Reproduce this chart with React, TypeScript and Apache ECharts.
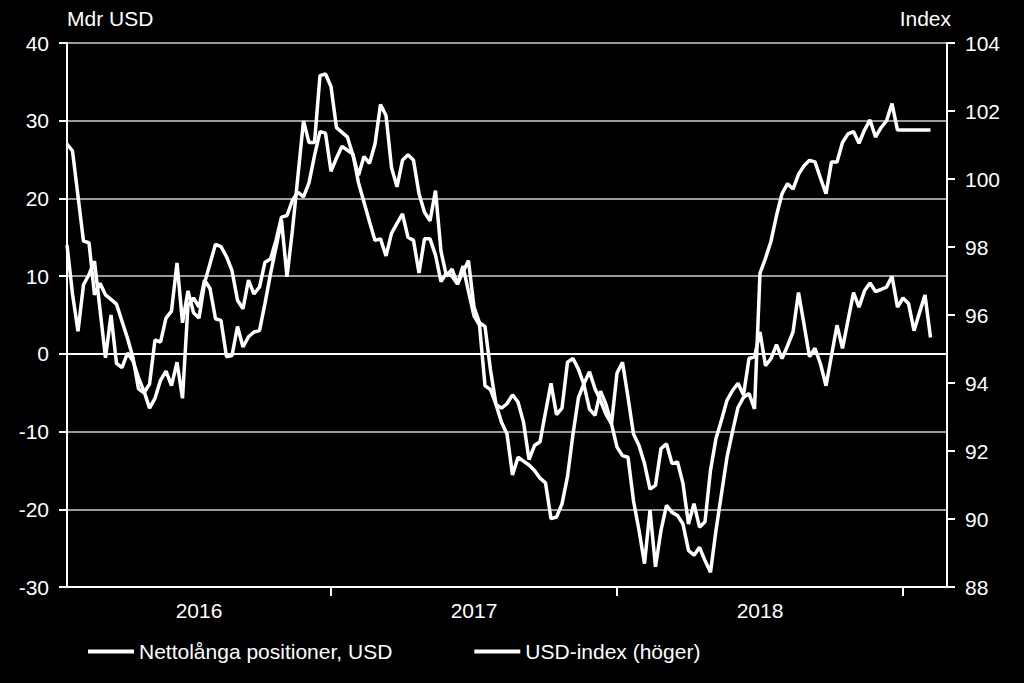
import React, { useEffect, useRef } from "react";
import * as echarts from "echarts";

// ---- data ----
const START_DATE = "2016-01-26"; // first weekly observation
const CATEGORY_COUNT = 161; // weekly slots on the axis (data + empty tail)
const YEAR_TICK_INDEX = [48, 100, 152]; // year boundaries
const YEAR_LABEL_INDEX = [24, 74, 126]; // where the year labels sit

const LEFT_AXIS = { min: -30, max: 40, interval: 10, name: "Mdr USD" };
const RIGHT_AXIS = { min: 88, max: 104, interval: 2, name: "Index" };

const SERIES_NAMES = ["Nettolånga positioner, USD", "USD-index (höger)"];

// Net long USD positions, bn USD (left axis)
const netLong = [
  27.0, 26.1, 20.3, 14.5, 14.3, 7.6, 9.1, 7.6, 7.0, 6.4,
  4.2, 2.0, -0.5, -4.5, -5.0, -3.9, 1.8, 1.5, 4.6, 5.5,
  11.7, 4.0, 8.1, 5.3, 4.6, 9.1, 11.6, 14.1, 13.8, 12.5,
  10.7, 6.9, 5.8, 9.5, 7.7, 8.6, 11.8, 12.2, 14.6, 17.6,
  17.8, 19.8, 20.8, 20.2, 22.0, 25.5, 28.6, 28.4, 23.5, 25.2,
  26.7, 26.2, 25.7, 22.0, 19.5, 17.0, 14.6, 14.8, 12.6, 15.5,
  16.8, 18.0, 15.0, 14.6, 10.4, 14.8, 14.8, 12.7, 9.3, 10.4,
  10.0, 9.0, 11.3, 8.0, 4.9, 3.7, -4.1, -4.6, -6.5, -8.8,
  -10.3, -15.6, -13.3, -13.8, -14.3, -15.0, -16.0, -16.6, -21.2, -21.0,
  -19.3, -15.8, -10.3, -5.6, -3.8, -2.3, -4.5, -6.0, -7.8, -9.0,
  -12.0, -13.1, -13.3, -18.9, -22.7, -27.0, -20.1, -27.4, -22.7, -19.5,
  -20.4, -20.8, -21.9, -25.3, -25.9, -24.9, -26.6, -28.1, -22.7, -18.0,
  -13.3, -10.0, -6.9, -5.6, -5.1, -7.1, 10.4, 12.3, 14.5, 17.8,
  20.6, 21.9, 21.2, 23.1, 24.2, 24.9, 24.7, 22.6, 20.6, 24.7,
  24.7, 27.2, 28.3, 28.6, 27.1, 28.8, 30.1, 27.9, 29.1, 30.0,
  32.2, 28.8, 28.8, 28.8, 28.8, 28.8, 28.8, 28.8,
];

// USD index (right axis)
const usdIndex = [
  98.06, 96.62, 95.52, 96.89, 97.19, 97.58, 96.16, 94.74, 96.0, 94.58,
  94.45, 94.88, 94.65, 94.15, 93.76, 93.26, 93.55, 94.08, 94.35, 93.92,
  94.61, 93.55, 96.3, 96.5, 96.23, 97.03, 96.78, 95.89, 95.84, 94.77,
  94.81, 95.66, 95.06, 95.36, 95.5, 95.54, 96.34, 97.21, 97.99, 98.79,
  97.12, 98.51, 100.11, 101.71, 101.07, 101.07, 103.04, 103.09, 102.72, 101.51,
  101.37, 101.23, 100.69, 100.11, 100.66, 100.46, 101.03, 102.19, 101.87, 100.34,
  99.77, 100.55, 100.71, 100.55, 99.57, 99.02, 98.77, 99.66, 97.87, 97.14,
  97.35, 96.91, 97.26, 97.6, 96.23, 95.77, 95.66, 94.38, 93.37, 93.26,
  93.39, 93.65, 93.44, 92.85, 91.75, 92.16, 92.27, 93.14, 93.99, 93.07,
  93.26, 94.61, 94.72, 94.4, 93.94, 93.23, 93.05, 93.76, 93.37, 92.8,
  94.29, 94.61, 93.58, 92.5, 92.16, 91.63, 90.88, 90.99, 92.07, 92.21,
  91.63, 91.68, 91.04, 89.85, 90.45, 89.76, 89.92, 91.43, 92.37, 92.91,
  93.49, 93.78, 93.99, 93.65, 94.72, 94.77, 95.5, 94.51, 94.72, 95.13,
  94.72, 95.09, 95.5, 96.66, 95.73, 94.77, 95.02, 94.56, 93.92, 94.81,
  95.7, 95.02, 95.84, 96.66, 96.23, 96.71, 96.94, 96.69, 96.75, 96.82,
  97.14, 96.23, 96.5, 96.34, 95.54, 96.07, 96.59, 95.34,
];

function buildCategories(): string[] {
  const out: string[] = [];
  const t0 = new Date(START_DATE + "T00:00:00Z").getTime();
  for (let i = 0; i < CATEGORY_COUNT; i++) {
    out.push(new Date(t0 + i * 7 * 86400000).toISOString().slice(0, 10));
  }
  return out;
}

const FONT = "'Liberation Sans', Arial, Helvetica, sans-serif";
const FS = 21;
const WHITE = "#ffffff";
const GRID_GRAY = "#9a9a9a";

export default function App() {
  const ref = useRef<HTMLDivElement>(null);

  useEffect(() => {
    if (!ref.current) return;
    const chart = echarts.init(ref.current, undefined, { renderer: "svg" });
    const categories = buildCategories();

    const lineStyle = { color: WHITE, width: 3.5 };

    chart.setOption({
      animation: false,
      backgroundColor: "#000000",
      textStyle: { fontFamily: FONT, color: WHITE },
      grid: { left: 67, right: 77, top: 43, bottom: 96, containLabel: false },
      legend: {
        left: 83,
        top: 636,
        icon: "rect",
        itemWidth: 46,
        itemHeight: 4,
        itemGap: 82,
        textStyle: { color: WHITE, fontSize: FS, fontFamily: FONT },
        data: SERIES_NAMES,
      },
      graphic: [
        {
          type: "text",
          left: 67,
          top: 8,
          style: { text: LEFT_AXIS.name, fill: WHITE, font: `${FS}px ${FONT}` },
        },
        {
          type: "text",
          right: 73,
          top: 8,
          style: { text: RIGHT_AXIS.name, fill: WHITE, font: `${FS}px ${FONT}` },
        },
      ],
      xAxis: {
        type: "category",
        data: categories,
        boundaryGap: false,
        axisLine: { onZero: false, lineStyle: { color: WHITE, width: 2 } },
        axisTick: {
          show: true,
          interval: (i: number) => YEAR_TICK_INDEX.includes(i),
          length: 9,
          lineStyle: { color: WHITE, width: 2 },
        },
        axisLabel: {
          interval: (i: number) => YEAR_LABEL_INDEX.includes(i),
          formatter: (v: string) => v.slice(0, 4),
          color: WHITE,
          fontSize: FS,
          fontFamily: FONT,
          margin: 13,
        },
        splitLine: { show: false },
      },
      yAxis: [
        {
          type: "value",
          position: "left",
          min: LEFT_AXIS.min,
          max: LEFT_AXIS.max,
          interval: LEFT_AXIS.interval,
          axisLine: { show: true, lineStyle: { color: WHITE, width: 2 } },
          axisTick: { show: true, length: 8, lineStyle: { color: WHITE, width: 2 } },
          axisLabel: { color: WHITE, fontSize: FS, fontFamily: FONT, margin: 18 },
          splitLine: { show: true, lineStyle: { color: GRID_GRAY, width: 2 } },
        },
        {
          type: "value",
          position: "right",
          min: RIGHT_AXIS.min,
          max: RIGHT_AXIS.max,
          interval: RIGHT_AXIS.interval,
          axisLine: { show: true, lineStyle: { color: WHITE, width: 2 } },
          axisTick: { show: true, length: 8, lineStyle: { color: WHITE, width: 2 } },
          axisLabel: { color: WHITE, fontSize: FS, fontFamily: FONT, margin: 18 },
          splitLine: { show: false },
        },
      ],
      series: [
        {
          name: SERIES_NAMES[0],
          type: "line",
          yAxisIndex: 0,
          data: netLong,
          symbol: "none",
          lineStyle,
          itemStyle: { color: WHITE },
          z: 3,
          markLine: {
            silent: true,
            symbol: ["none", "none"],
            label: { show: false },
            lineStyle: { color: WHITE, width: 2, type: "solid" },
            data: [{ yAxis: 0 }],
          },
        },
        {
          name: SERIES_NAMES[1],
          type: "line",
          yAxisIndex: 1,
          data: usdIndex,
          symbol: "none",
          lineStyle,
          itemStyle: { color: WHITE },
          z: 3,
        },
      ],
    });

    return () => chart.dispose();
  }, []);

  return (
    <div
      ref={ref}
      style={{
        position: "fixed",
        left: 0,
        top: 0,
        width: 1024,
        height: 683,
        background: "#000",
      }}
    />
  );
}
